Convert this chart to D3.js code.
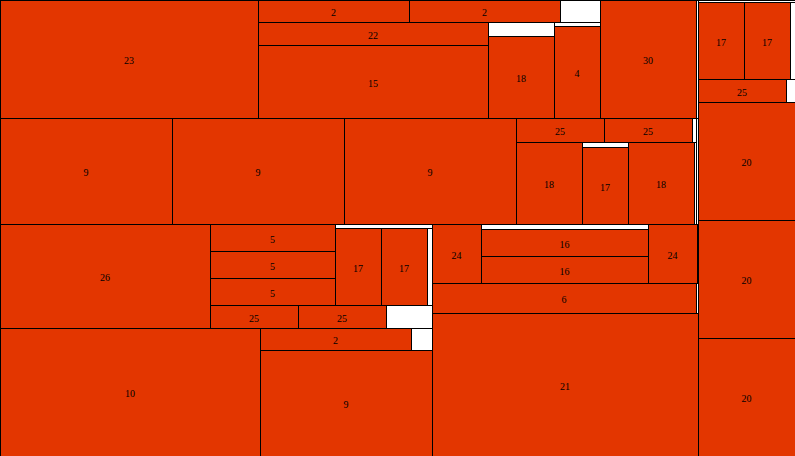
<!DOCTYPE html>
<html>
<head>
<meta charset="utf-8">
<script src="https://cdn.jsdelivr.net/npm/d3@7"></script>
<style>
  body { margin: 0; background: #fff; }
  svg { display: block; }
  text { font-family: "Liberation Serif", "DejaVu Serif", serif; font-size: 10px; }
</style>
</head>
<body>
<div class="container"></div>
<script>
let width = 795
let height = 456

// flat tree table: id, parent, label, own value, split direction
// h = side by side, v = stacked (first child at the bottom)
const ids = [
    'root', 'L', 'R',
    'r20c', 'r20b', 'r20a', 'Gr', 'Gr25', 'Gr25a', 'Gr17', 'Gr17a', 'Gr17b',
    'B', 'BL', 'lower', 'n10', 'G4', 'G4n9', 'G4row', 'G4n2',
    'upper', 'n26', 'G3', 'G3row', 'G3n25a', 'G3n25b', 'G3up', 'stack5', 's5a', 's5b', 's5c',
    'G17', 'G17row', 'G17a', 'G17b',
    'BR', 'n21', 'w6', 'n6', 'rowA', 'n24a', 'stack16', 's16a', 's16b', 'n24b',
    'T', 'row2', 'n9a', 'n9b', 'n9c', 'G2', 'G2bot', 'G2n18a', 'col17', 'c17', 'G2n18b', 'G2top', 'G2n25a', 'G2n25b',
    'row1', 'n23', 'G1', 'G1b', 'G1a', 'n15', 'n22', 'col18', 'c18', 'col4', 'c4', 'row2s', 'n2a', 'n2b', 'n30'
]
const parents = [
    '', 'root', 'root',
    'R', 'R', 'R', 'R', 'Gr', 'Gr25', 'Gr', 'Gr17', 'Gr17',
    'L', 'B', 'BL', 'lower', 'lower', 'G4', 'G4', 'G4row',
    'BL', 'upper', 'upper', 'G3', 'G3row', 'G3row', 'G3', 'G3up', 'stack5', 'stack5', 'stack5',
    'G3up', 'G17', 'G17row', 'G17row',
    'B', 'BR', 'BR', 'w6', 'BR', 'rowA', 'rowA', 'stack16', 'stack16', 'rowA',
    'L', 'T', 'row2', 'row2', 'row2', 'row2', 'G2', 'G2bot', 'G2bot', 'col17', 'G2bot', 'G2', 'G2top', 'G2top',
    'T', 'row1', 'row1', 'G1', 'G1b', 'G1a', 'G1a', 'G1b', 'col18', 'G1b', 'col4', 'G1', 'row2s', 'row2s', 'row1'
]
const labels = [
    '', '', '',
    '20', '20', '20', '', '', '25', '', '17', '17',
    '', '', '', '10', '', '9', '', '2',
    '', '26', '', '', '25', '25', '', '', '5', '5', '5',
    '', '', '17', '17',
    '', '21', '', '6', '', '24', '', '16', '16', '24',
    '', '', '9', '9', '9', '', '', '18', '', '17', '18', '', '25', '25',
    '', '23', '', '', '', '15', '22', '', '18', '', '4', '', '2', '2', '30'
]
const values = [
    0, 0, 0,
    11446, 11446, 11446, 194, 207, 2024, 385, 3542, 3542,
    0, 0, 0, 33280, 0, 18232, 462, 3322,
    0, 21840, 0, 1058, 2024, 2024, 0, 0, 3375, 3375, 3375,
    388, 385, 3542, 3542,
    0, 38038, 60, 7920, 59, 2891, 835, 4509, 4509, 2891,
    0, 212, 18232, 18232, 18232, 0, 164, 5412, 230, 3542, 5412, 96, 2112, 2112,
    236, 30444, 0, 0, 0, 16790, 5290, 924, 5412, 184, 4232, 880, 3322, 3322, 11328
]
const splits = [
    'h', 'v', 'v',
    '', '', '', 'v', 'h', '', 'h', '', '',
    'h', 'v', 'h', '', 'v', '', 'h', '',
    'h', '', 'v', 'h', '', '', 'h', 'v', '', '', '',
    'v', 'h', '', '',
    'v', '', 'h', '', 'h', '', 'v', '', '', '',
    'v', 'h', '', '', '', 'v', 'h', '', 'v', '', '', 'h', '', '',
    'h', '', 'v', 'h', 'v', '', '', 'v', '', 'v', '', 'h', '', '', ''
]

let table = ids.map((id, i) => {
    return { id: id, parent: parents[i], label: labels[i], value: values[i], split: splits[i] }
})

let root = d3.stratify()
    .id((d) => d.id)
    .parentId((d) => d.parent || null)(table)
    .sum((d) => d.value)

d3.treemap()
    .size([width, height])
    .tile((node, x0, y0, x1, y1) => {
        if (node.data.split === 'h') d3.treemapDice(node, x0, y0, x1, y1)
        else d3.treemapSlice(node, x0, y0, x1, y1)
    })(root)

// layout runs top-down, picture stacks bottom-up
let xScale = d3.scaleLinear().domain([0, width]).range([0, width])
let yScale = d3.scaleLinear().domain([0, height]).range([height, 0])

let svg = d3.select('.container')
    .append('svg')
    .attr('width', width)
    .attr('height', height)

let cell = svg.selectAll('g')
    .data(root.descendants())
    .enter()
    .append('g')

cell.append('rect')
    .attr('x', (d) => xScale(d.x0))
    .attr('y', (d) => yScale(d.y1))
    .attr('width', (d) => xScale(d.x1) - xScale(d.x0))
    .attr('height', (d) => yScale(d.y0) - yScale(d.y1))
    .attr('fill', (d) => d.children ? '#ffffff' : '#e33600')
    .attr('stroke', '#000')
    .attr('stroke-width', 1)
    .attr('shape-rendering', 'crispEdges')

cell.filter((d) => !d.children)
    .append('text')
    .attr('x', (d) => xScale((d.x0 + d.x1) / 2))
    .attr('y', (d) => yScale((d.y0 + d.y1) / 2))
    .attr('dy', '0.5em')
    .attr('text-anchor', 'middle')
    .attr('fill', '#000')
    .text((d) => d.data.label)
</script>
</body>
</html>
